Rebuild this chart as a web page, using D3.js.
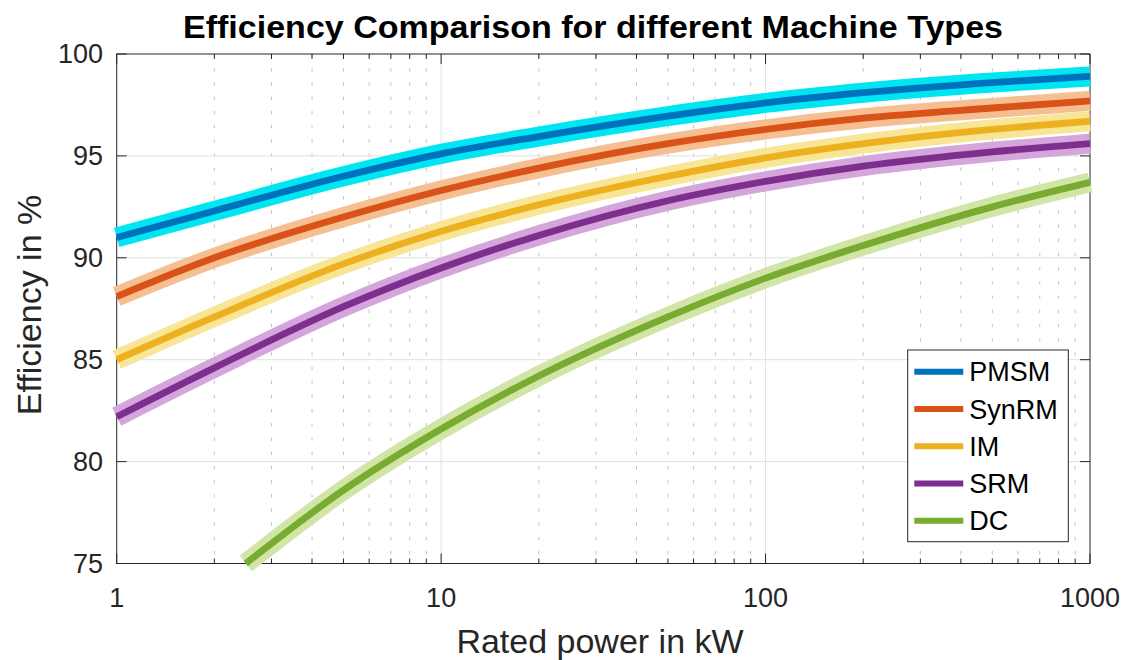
<!DOCTYPE html>
<html>
<head>
<meta charset="utf-8">
<script src="https://cdn.jsdelivr.net/npm/d3@7"></script>
<style>
  html, body { margin: 0; padding: 0; background: #fff; }
  svg { display: block; font-family: "Liberation Sans", Arial, Helvetica, sans-serif; }
</style>
</head>
<body>
<svg id="chart" width="1126" height="660"></svg>
<script>
// Rated power sample points (kW)
const powerKW = [1, 2, 5, 10, 20, 50, 100, 200, 500, 1000];
const powerDC = [2.5, 5, 10, 20, 50, 100, 200, 500, 1000];

// Efficiency in % for each machine type
const effPMSM  = [91.0, 92.3, 94.0, 95.1, 95.95, 96.95, 97.6, 98.1, 98.6, 98.9];
const effSynRM = [88.1, 90.0, 92.0, 93.3, 94.4, 95.6, 96.3, 96.85, 97.35, 97.7];
const effIM    = [85.0, 87.1, 89.7, 91.3, 92.6, 94.0, 94.9, 95.6, 96.3, 96.7];
const effSRM   = [82.2, 84.6, 87.6, 89.5, 91.1, 92.8, 93.75, 94.5, 95.2, 95.6];
const effDC    = [75.0, 78.6, 81.6, 84.2, 87.1, 89.0, 90.6, 92.5, 93.7];

const seriesNames = ["PMSM", "SynRM", "IM", "SRM", "DC"];
const lineColors  = ["#0072BD", "#D95319", "#EDB120", "#7E2F8E", "#77AC30"];
const bandColors  = ["#00E5F2", "#F5BF92", "#F8E596", "#D4A6DC", "#D1E5A7"];

const xTicks = [1, 10, 100, 1000];
const yTicks = [75, 80, 85, 90, 95, 100];

const title  = "Efficiency Comparison for different Machine Types";
const xLabel = "Rated power in kW";
const yLabel = "Efficiency in %";

const series = [
  { name: seriesNames[0], x: powerKW, y: effPMSM },
  { name: seriesNames[1], x: powerKW, y: effSynRM },
  { name: seriesNames[2], x: powerKW, y: effIM },
  { name: seriesNames[3], x: powerKW, y: effSRM },
  { name: seriesNames[4], x: powerDC, y: effDC }
];

const svg = d3.select("#chart");
const L = 116.7, R = 1090, T = 54, B = 563.5;
const axisColor = "#262626";

const x = d3.scaleLog().domain([1, 1000]).range([L, R]);
const y = d3.scaleLinear().domain([75, 100]).range([B, T]);

// minor log positions 2..9 per decade
const minorX = [];
[1, 10, 100].forEach(d => { for (let k = 2; k <= 9; k++) minorX.push(d * k); });

// grid
const grid = svg.append("g");
grid.selectAll(".minor").data(minorX).join("line")
  .attr("x1", d => x(d)).attr("x2", d => x(d))
  .attr("y1", T).attr("y2", B)
  .attr("stroke", "#c4c4c4").attr("stroke-width", 1)
  .attr("stroke-dasharray", "3.5 10.7");
grid.selectAll(".majx").data(xTicks.slice(1, -1)).join("line")
  .attr("x1", d => x(d)).attr("x2", d => x(d))
  .attr("y1", T).attr("y2", B)
  .attr("stroke", "#e0e0e0").attr("stroke-width", 1);
grid.selectAll(".majy").data(yTicks.slice(1, -1)).join("line")
  .attr("x1", L).attr("x2", R)
  .attr("y1", d => y(d)).attr("y2", d => y(d))
  .attr("stroke", "#e0e0e0").attr("stroke-width", 1);

// axes (inward ticks on all four sides)
const majorLen = 10, minorLen = 5;
const axG = svg.append("g").attr("stroke", axisColor).attr("stroke-width", 1);
axG.append("rect").attr("x", L).attr("y", T).attr("width", R - L).attr("height", B - T)
  .attr("fill", "none");
axG.selectAll(".xb").data(xTicks).join("line")
  .attr("x1", d => x(d)).attr("x2", d => x(d)).attr("y1", B).attr("y2", B - majorLen);
axG.selectAll(".xt").data(xTicks).join("line")
  .attr("x1", d => x(d)).attr("x2", d => x(d)).attr("y1", T).attr("y2", T + majorLen);
axG.selectAll(".xbm").data(minorX).join("line")
  .attr("x1", d => x(d)).attr("x2", d => x(d)).attr("y1", B).attr("y2", B - minorLen);
axG.selectAll(".xtm").data(minorX).join("line")
  .attr("x1", d => x(d)).attr("x2", d => x(d)).attr("y1", T).attr("y2", T + minorLen);
axG.selectAll(".yl").data(yTicks).join("line")
  .attr("x1", L).attr("x2", L + majorLen).attr("y1", d => y(d)).attr("y2", d => y(d));
axG.selectAll(".yr").data(yTicks).join("line")
  .attr("x1", R).attr("x2", R - majorLen).attr("y1", d => y(d)).attr("y2", d => y(d));

// tick labels
const tickFont = 27;
svg.append("g").selectAll("text").data(xTicks).join("text")
  .attr("x", d => x(d)).attr("y", 606.5)
  .attr("text-anchor", "middle").attr("font-size", tickFont).attr("fill", axisColor)
  .text(d => d3.format("d")(d));
svg.append("g").selectAll("text").data(yTicks).join("text")
  .attr("x", 103).attr("y", d => y(d)).attr("dy", "0.35em")
  .attr("text-anchor", "end").attr("font-size", tickFont).attr("fill", axisColor)
  .text(d => d);

// axis labels and title
svg.append("text").attr("x", 600).attr("y", 653)
  .attr("text-anchor", "middle").attr("font-size", 34).attr("fill", axisColor)
  .text(xLabel);
svg.append("text")
  .attr("transform", `translate(41,305) rotate(-90)`)
  .attr("text-anchor", "middle").attr("font-size", 34).attr("fill", axisColor)
  .text(yLabel);
svg.append("text").attr("x", 593).attr("y", 38)
  .attr("text-anchor", "middle").attr("font-size", 32).attr("font-weight", "bold")
  .attr("fill", "#000").attr("textLength", 820).attr("lengthAdjust", "spacingAndGlyphs")
  .text(title);

// curves: wide light band with the darker line on top
const line = d3.line()
  .x(d => x(d[0])).y(d => y(d[1]))
  .curve(d3.curveMonotoneX);

const curves = svg.append("g");
series.forEach((s, i) => {
  const pts = s.x.map((p, j) => [p, s.y[j]]);
  curves.append("path").attr("d", line(pts))
    .attr("fill", "none").attr("stroke", bandColors[i]).attr("stroke-width", 20)
    .attr("stroke-linecap", "butt").attr("stroke-linejoin", "round");
  curves.append("path").attr("d", line(pts))
    .attr("fill", "none").attr("stroke", lineColors[i]).attr("stroke-width", 6.8)
    .attr("stroke-linecap", "butt").attr("stroke-linejoin", "round");
});

// legend
const lg = svg.append("g");
const lgX = 907.7, lgY = 350, lgW = 160.6, lgH = 191.7;
lg.append("rect").attr("x", lgX).attr("y", lgY).attr("width", lgW).attr("height", lgH)
  .attr("fill", "#fff").attr("stroke", axisColor).attr("stroke-width", 1);
seriesNames.forEach((n, i) => {
  const cy = 371.7 + i * 37.25;
  lg.append("line").attr("x1", 914.3).attr("x2", 963.3).attr("y1", cy).attr("y2", cy)
    .attr("stroke", lineColors[i]).attr("stroke-width", 6);
  lg.append("text").attr("x", 969.3).attr("y", cy).attr("dy", "0.36em")
    .attr("font-size", 27).attr("fill", "#000").text(n);
});
</script>
</body>
</html>
